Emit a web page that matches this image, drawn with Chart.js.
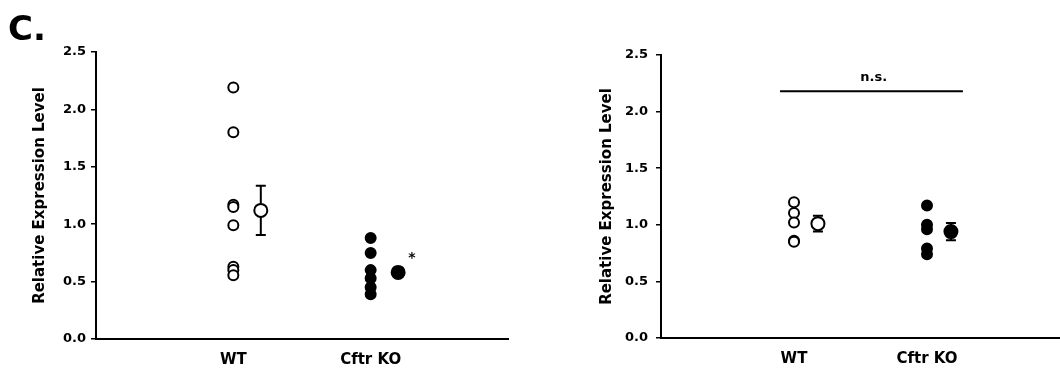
<!DOCTYPE html>
<html>
<head>
<meta charset="utf-8">
<script src="https://cdn.jsdelivr.net/npm/chart.js@4.4.0/dist/chart.umd.min.js"></script>
<style>
  body { margin: 0; background: #fff; }
  #wrap { position: relative; width: 1060px; height: 370px; overflow: hidden; }
  .panel { position: absolute; top: 0; width: 530px; height: 370px; }
  #panelLabel {
    position: absolute; left: 8px; top: 8px; line-height: 1;
    font: bold 34px "DejaVu Sans", sans-serif; color: #000;
  }
</style>
</head>
<body>
<div id="wrap">
  <div class="panel" style="left:0"><canvas id="chartA" width="530" height="370"></canvas></div>
  <div class="panel" style="left:530px"><canvas id="chartB" width="530" height="370"></canvas></div>
  <div id="panelLabel">C.</div>
</div>
<script>
// data
const groups = ['WT', 'Cftr KO'];
const yTicks = [0, 0.5, 1.0, 1.5, 2.0, 2.5];

// panel kiri
const leftWT = [2.19, 1.80, 1.17, 1.15, 0.99, 0.63, 0.60, 0.555];
const leftKO = [0.88, 0.75, 0.60, 0.53, 0.45, 0.39];
const leftMean = [1.12, 0.58];
const leftSem = [0.215, 0.04];

// panel kanan
const rightWT = [1.20, 1.105, 1.02, 0.86, 0.85];
const rightKO = [1.17, 1.00, 0.96, 0.79, 0.74];
const rightMean = [1.01, 0.94];
const rightSem = [0.07, 0.076];

const FONT = '"DejaVu Sans", sans-serif';

// error bar, garis n.s. dan tanda bintang
const extras = {
  id: 'extras',
  beforeDatasetsDraw(chart, args, opts) {
    const { ctx, scales: { x, y } } = chart;
    ctx.save();
    ctx.strokeStyle = '#000';
    ctx.lineWidth = 2;
    (opts.bars || []).forEach((b) => {
      const px = x.getPixelForValue(b.x);
      const top = y.getPixelForValue(b.y + b.err);
      const bot = y.getPixelForValue(b.y - b.err);
      ctx.beginPath();
      ctx.moveTo(px, top); ctx.lineTo(px, bot);
      ctx.moveTo(px - 5, top); ctx.lineTo(px + 5, top);
      ctx.moveTo(px - 5, bot); ctx.lineTo(px + 5, bot);
      ctx.stroke();
    });
    if (opts.line) {
      const l = opts.line;
      const py = y.getPixelForValue(l.y);
      ctx.beginPath();
      ctx.moveTo(x.getPixelForValue(l.x1), py);
      ctx.lineTo(x.getPixelForValue(l.x2), py);
      ctx.stroke();
    }
    ctx.restore();
  },
  afterDatasetsDraw(chart, args, opts) {
    const { ctx, scales: { x, y } } = chart;
    ctx.save();
    ctx.fillStyle = '#000';
    ctx.textAlign = 'center';
    ctx.textBaseline = 'middle';
    (opts.notes || []).forEach((n) => {
      ctx.font = 'bold ' + n.size + 'px ' + FONT;
      ctx.fillText(n.text, x.getPixelForValue(n.x), y.getPixelForValue(n.y));
    });
    ctx.restore();
  }
};

function makePanel(id, wt, ko, mean, sem, o) {
  const ctx = document.getElementById(id).getContext('2d');
  const off = o.meanOffset;
  return new Chart(ctx, {
    type: 'scatter',
    data: {
      datasets: [
        {
          data: wt.map((v) => ({ x: 1, y: v })),
          backgroundColor: '#fff', borderColor: '#000',
          borderWidth: 2, pointRadius: 5
        },
        {
          data: ko.map((v) => ({ x: 2, y: v })),
          backgroundColor: '#000', borderColor: '#000',
          borderWidth: 2, pointRadius: 5
        },
        {
          data: [{ x: 1 + off, y: mean[0] }],
          backgroundColor: '#fff', borderColor: '#000',
          borderWidth: 2, pointRadius: 6.5
        },
        {
          data: [{ x: 2 + off, y: mean[1] }],
          backgroundColor: '#000', borderColor: '#000',
          borderWidth: 2, pointRadius: 6.5
        }
      ]
    },
    options: {
      responsive: false,
      animation: false,
      devicePixelRatio: 1,
      events: [],
      layout: {
        autoPadding: false,
        padding: { top: o.top, right: o.right, bottom: 0, left: 0 }
      },
      plugins: {
        legend: { display: false },
        tooltip: { enabled: false },
        extras: {
          bars: [
            { x: 1 + off, y: mean[0], err: sem[0] },
            { x: 2 + off, y: mean[1], err: sem[1] }
          ],
          line: o.line,
          notes: o.notes
        }
      },
      scales: {
        x: {
          type: 'linear',
          min: 0, max: 3,
          afterBuildTicks: (s) => { s.ticks = groups.map((g, i) => ({ value: i + 1 })); },
          afterFit: (s) => {
            s.height = o.xHeight;
            s.paddingLeft = 0;
            s.paddingRight = 0;
          },
          grid: { display: false },
          border: { display: true, color: '#000', width: 2 },
          ticks: {
            padding: 4,
            color: '#000',
            font: { family: FONT, size: 15, weight: 'bold' },
            callback: (v) => groups[v - 1]
          }
        },
        y: {
          min: 0, max: 2.5,
          afterBuildTicks: (s) => { s.ticks = yTicks.map((v) => ({ value: v })); },
          afterFit: (s) => { s.width = o.yWidth; },
          grid: {
            display: true, drawOnChartArea: false, drawTicks: true,
            tickLength: 5, color: '#000', lineWidth: 1.5
          },
          border: { display: true, color: '#000', width: 2 },
          ticks: {
            padding: o.tickPad,
            color: '#000',
            font: { family: FONT, size: 13, weight: 'bold' },
            callback: (v) => v.toFixed(1)
          },
          title: {
            display: true,
            text: 'Relative Expression Level',
            color: '#000',
            font: { family: FONT, size: 15, weight: 'bold', lineHeight: 1.2 },
            padding: { top: o.titlePad, bottom: 0 }
          }
        }
      }
    },
    plugins: [extras]
  });
}

makePanel('chartA', leftWT, leftKO, leftMean, leftSem, {
  top: 52, right: 22, xHeight: 31, yWidth: 96, tickPad: 5, titlePad: 31.5,
  meanOffset: 0.2,
  notes: [{ x: 2.3, y: 0.70, text: '*', size: 14 }]
});

makePanel('chartB', rightWT, rightKO, rightMean, rightSem, {
  top: 55, right: 0, xHeight: 32, yWidth: 131, tickPad: 8, titlePad: 68.5,
  meanOffset: 0.18,
  line: { x1: 0.895, x2: 2.27, y: 2.18 },
  notes: [{ x: 1.6, y: 2.30, text: 'n.s.', size: 13 }]
});
</script>
</body>
</html>
